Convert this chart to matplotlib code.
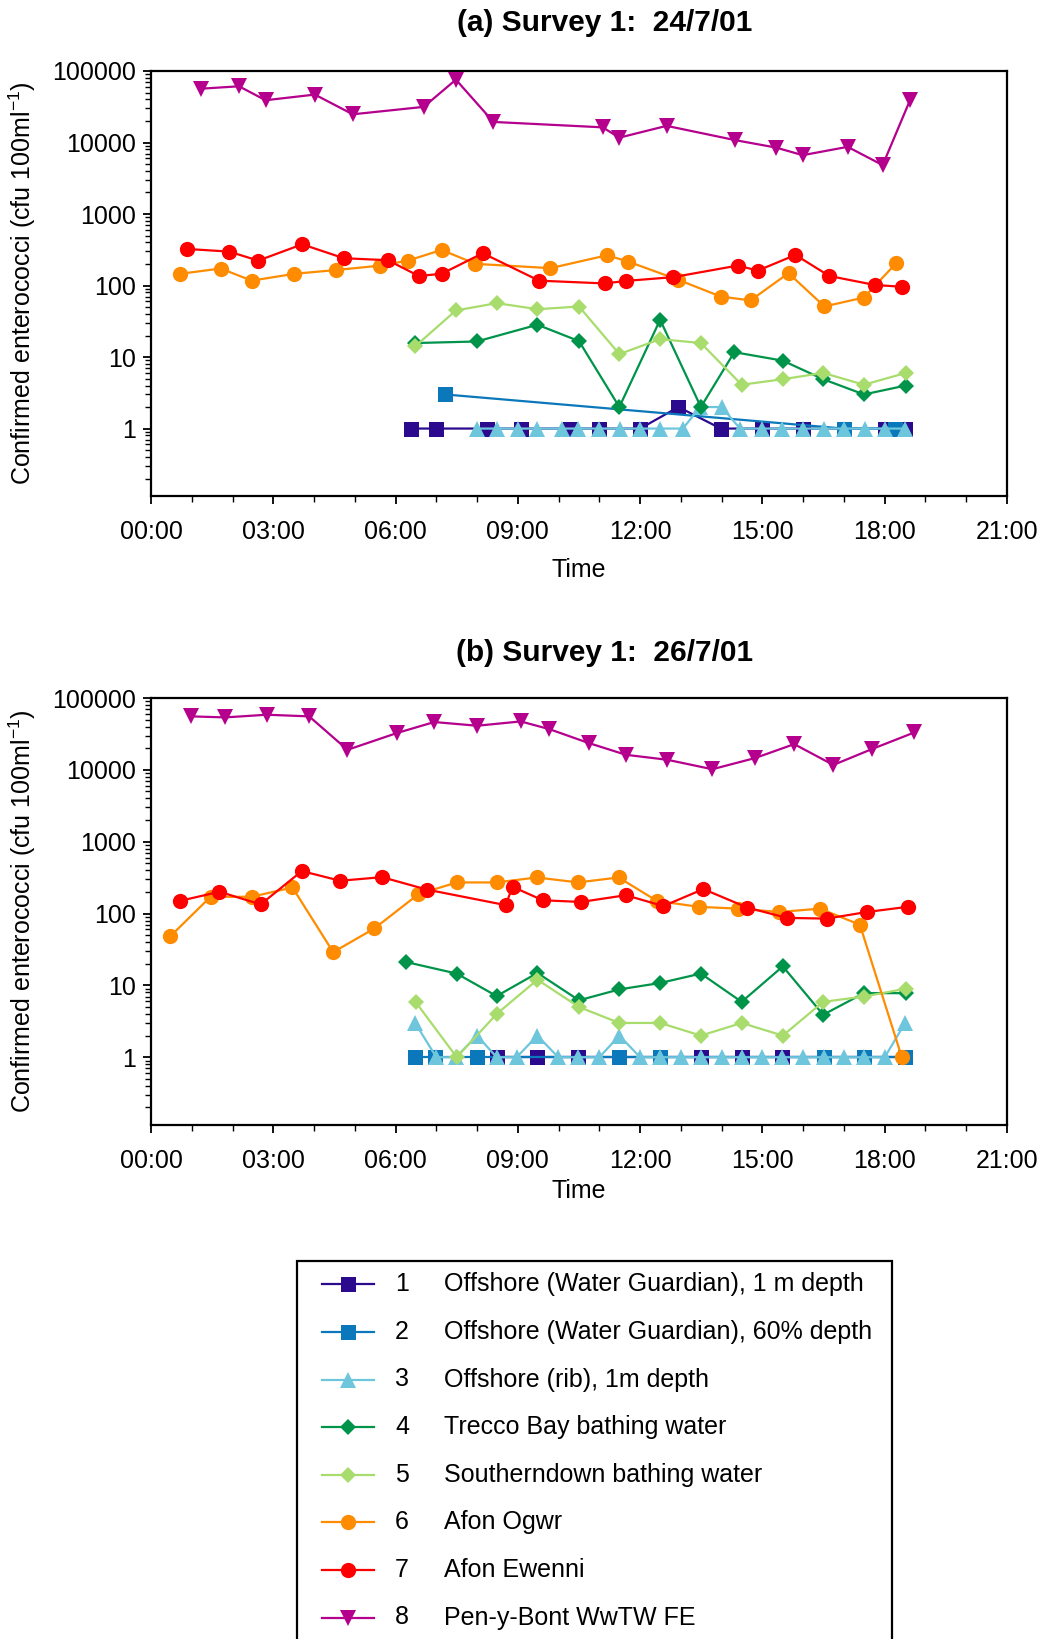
import matplotlib
matplotlib.use("Agg")
import matplotlib.pyplot as plt
import matplotlib.ticker as mticker
from matplotlib.lines import Line2D
from matplotlib.patches import Rectangle

plt.rcParams['font.family'] = ['Liberation Sans', 'DejaVu Sans']
plt.rcParams['mathtext.default'] = 'regular'

# ---------------- data ----------------
site_numbers = ['1', '2', '3', '4', '5', '6', '7', '8']
site_labels = ['Offshore (Water Guardian), 1 m depth',
               'Offshore (Water Guardian), 60% depth',
               'Offshore (rib), 1m depth',
               'Trecco Bay bathing water',
               'Southerndown bathing water',
               'Afon Ogwr',
               'Afon Ewenni',
               'Pen-y-Bont WwTW FE']
site_colors = ['#2B0A8E', '#0A78BA', '#6EC6DC', '#00944A',
               '#A8DC6C', '#FF8C00', '#FF0000', '#B4008C']
site_markers = ['s', 's', '^', 'D', 'D', 'o', 'o', 'v']
site_msize = [10.8, 10.8, 11.0, 7.8, 7.8, 11.0, 11.0, 11.0]

x_ticks = [0, 3, 6, 9, 12, 15, 18, 21]
x_ticklabels = ['00:00', '03:00', '06:00', '09:00', '12:00', '15:00', '18:00', '21:00']
y_ticks = [1, 10, 100, 1000, 10000, 100000]
y_ticklabels = ['1', '10', '100', '1000', '10000', '100000']

panel_titles = ['(a) Survey 1:  24/7/01', '(b) Survey 1:  26/7/01']

# ---- Survey (a) 24/7/01 : time (decimal hours), cfu/100ml ----
a_t1 = [6.39, 6.98, 8.24, 9.08, 10.28, 11.0, 12.0, 12.94, 13.98, 14.98, 16.0, 17.0, 18.0, 18.5]
a_v1 = [1, 1, 1, 1, 1, 1, 1, 2, 1, 1, 1, 1, 1, 1]
a_t2 = [7.21, 16.99, 18.25]
a_v2 = [3, 1, 1]
a_t3 = [8.0, 8.48, 9.0, 9.47, 10.08, 10.48, 10.98, 11.5, 12.0, 12.49, 13.05, 13.47,
        14.0, 14.45, 14.98, 15.47, 16.0, 16.5, 17.0, 17.52, 18.0, 18.5]
a_v3 = [1, 1, 1, 1, 1, 1, 1, 1, 1, 1, 1, 2, 2, 1, 1, 1, 1, 1, 1, 1, 1, 1]
a_t4 = [6.48, 7.99, 9.48, 10.5, 11.49, 12.49, 13.49, 14.31, 15.5, 16.49, 17.49, 18.52]
a_v4 = [15.7, 16.5, 28.3, 16.7, 2.0, 33.2, 2.0, 11.7, 8.9, 4.9, 3.0, 4.0]
a_t5 = [6.48, 7.48, 8.48, 9.48, 10.5, 11.49, 12.49, 13.49, 14.49, 15.5, 16.49, 17.49, 18.52]
a_v5 = [14.1, 44.8, 56.7, 46.7, 50.9, 11.0, 17.8, 15.7, 4.1, 4.9, 6.0, 4.1, 6.0]
a_t6 = [0.72, 1.71, 2.47, 3.52, 4.55, 5.63, 6.30, 7.13, 7.96, 9.80, 11.19, 11.71,
        12.94, 13.98, 14.71, 15.64, 16.52, 17.49, 18.28]
a_v6 = [146, 173, 117, 146, 165, 190, 223, 315, 201, 175, 265, 216,
        120, 70, 62, 149, 51, 68, 205]
a_t7 = [0.88, 1.92, 2.63, 3.71, 4.73, 5.81, 6.57, 7.13, 8.14, 9.52, 11.13, 11.65,
        12.81, 14.39, 14.89, 15.81, 16.64, 17.75, 18.43]
a_v7 = [325, 298, 223, 377, 241, 226, 136, 146, 283, 117, 107, 116,
        131, 190, 162, 268, 136, 102, 96]
a_t8 = [1.23, 2.16, 2.81, 4.02, 4.95, 6.69, 7.48, 8.40, 11.08, 11.49, 12.65,
        14.33, 15.33, 15.99, 17.09, 17.95, 18.62]
a_v8 = [56600, 61100, 39000, 46800, 24800, 31500, 75700, 19400, 16300, 11700, 17100,
        10800, 8500, 6650, 8700, 4830, 39000]

# ---- Survey (b) 26/7/01 ----
b_t1 = [8.48, 9.46, 10.48, 11.49, 12.49, 13.49, 14.49, 15.49, 16.5, 17.5, 18.5]
b_v1 = [1, 1, 1, 1, 1, 1, 1, 1, 1, 1, 1]
b_t2 = [6.48, 6.97, 7.99, 11.49, 12.49, 16.5, 17.5, 18.5]
b_v2 = [1, 1, 1, 1, 1, 1, 1, 1]
b_t3 = [6.48, 7.0, 7.48, 8.0, 8.48, 8.97, 9.48, 9.99, 10.48, 11.0, 11.49, 12.0, 12.49,
        13.0, 13.49, 14.0, 14.49, 15.0, 15.49, 16.0, 16.5, 17.0, 17.5, 18.0, 18.5]
b_v3 = [3, 1, 1, 2, 1, 1, 2, 1, 1, 1, 2, 1, 1, 1, 1, 1, 1, 1, 1, 1, 1, 1, 1, 1, 3]
b_t4 = [6.25, 7.5, 8.48, 9.48, 10.5, 11.49, 12.49, 13.49, 14.49, 15.5, 16.49, 17.49, 18.52]
b_v4 = [21.2, 14.6, 7.1, 14.9, 6.2, 8.8, 10.8, 14.6, 5.9, 18.4, 3.9, 7.8, 7.8]
b_t5 = [6.49, 7.5, 8.48, 9.48, 10.5, 11.49, 12.49, 13.49, 14.49, 15.5, 16.49, 17.49, 18.52]
b_v5 = [5.9, 1.0, 4.0, 12.0, 5.0, 3.0, 3.0, 2.0, 3.0, 2.0, 5.9, 7.0, 9.0]
b_t6 = [0.47, 1.46, 2.47, 3.47, 4.47, 5.48, 6.56, 7.5, 8.48, 9.46, 10.48, 11.47,
        12.41, 13.44, 14.41, 15.41, 16.41, 17.39, 18.42]
b_v6 = [48, 171, 171, 231, 29, 62, 186, 271, 271, 318, 271, 318,
        150, 124, 117, 105, 117, 70, 1]
b_t7 = [0.71, 1.68, 2.69, 3.70, 4.64, 5.67, 6.76, 8.70, 8.87, 9.61, 10.55, 11.65,
        12.57, 13.55, 14.63, 15.60, 16.58, 17.56, 18.56]
b_v7 = [150, 201, 134, 390, 286, 321, 216, 131, 236, 153, 145, 180,
        127, 219, 121, 87, 85, 105, 124]
b_t8 = [0.98, 1.82, 2.84, 3.88, 4.82, 6.03, 6.95, 8.0, 9.07, 9.77, 10.74, 11.65,
        12.67, 13.77, 14.82, 15.78, 16.74, 17.70, 18.73]
b_v8 = [55500, 53700, 58500, 55500, 19000, 32500, 46300, 41100, 47200, 36900, 23600,
        16200, 13800, 10200, 14600, 22800, 11700, 19600, 33200]

survey_a = [(a_t1, a_v1), (a_t2, a_v2), (a_t3, a_v3), (a_t4, a_v4),
            (a_t5, a_v5), (a_t6, a_v6), (a_t7, a_v7), (a_t8, a_v8)]
survey_b = [(b_t1, b_v1), (b_t2, b_v2), (b_t3, b_v3), (b_t4, b_v4),
            (b_t5, b_v5), (b_t6, b_v6), (b_t7, b_v7), (b_t8, b_v8)]

# ---------------- figure ----------------
W, H = 1045, 1639
fig = plt.figure(figsize=(W / 100, H / 100), dpi=100)

FS = 18
LW = 1.6
axes_px = [(71, 496), (698, 1125)]
title_y = [23, 653]
xlabel_y = [570, 1191]

for k, (survey, (top, bot)) in enumerate(zip([survey_a, survey_b], axes_px)):
    ax = fig.add_axes([151 / W, 1 - bot / H, 856 / W, (bot - top) / H])
    for i, (t, v) in enumerate(survey):
        ax.plot(t, v, color=site_colors[i], marker=site_markers[i],
                markersize=site_msize[i], markeredgewidth=0, lw=LW,
                zorder=2 + i, clip_on=False)
    ax.set_yscale('log')
    ax.set_xlim(0, 21)
    ax.set_ylim(0.114, 1e5)
    ax.yaxis.set_major_locator(mticker.FixedLocator(y_ticks))
    ax.yaxis.set_major_formatter(mticker.FixedFormatter(y_ticklabels))
    ax.yaxis.set_minor_locator(mticker.LogLocator(base=10, subs=range(2, 10), numticks=20))
    ax.yaxis.set_minor_formatter(mticker.NullFormatter())
    ax.xaxis.set_major_locator(mticker.FixedLocator(x_ticks))
    ax.xaxis.set_major_formatter(mticker.FixedFormatter(x_ticklabels))
    ax.xaxis.set_minor_locator(mticker.MultipleLocator(1))
    ax.tick_params(axis='both', which='major', direction='out', length=6, width=1.3,
                   labelsize=FS, top=False, right=False)
    ax.tick_params(axis='x', which='major', pad=11)
    ax.tick_params(axis='y', which='major', pad=5)
    ax.tick_params(axis='both', which='minor', direction='out', length=4, width=1.0,
                   top=False, right=False)
    for sp in ax.spines.values():
        sp.set_linewidth(1.6)
        sp.set_color('black')
    ax.set_ylabel('Confirmed enterococci (cfu 100ml$^{-1}$)', fontsize=FS)
    ax.yaxis.label.set_va('center')
    ax.yaxis.set_label_coords((22 - 151) / 856, 0.5)
    ax.set_xlabel('Time', fontsize=FS)
    ax.xaxis.label.set_va('center')
    ax.xaxis.set_label_coords(0.5, (bot - xlabel_y[k]) / (bot - top))
    fig.text(605 / W, 1 - title_y[k] / H, panel_titles[k], ha='center', va='center',
             fontsize=21.5, fontweight='bold')

# ---------------- legend ----------------
leg_left, leg_right, leg_top = 297, 892, 1261
fig.patches.append(Rectangle((leg_left / W, -0.05), (leg_right - leg_left) / W,
                             1 - leg_top / H + 0.05, transform=fig.transFigure,
                             fill=False, edgecolor='black', lw=1.6))
row0, drow = 1284.3, 47.6
for i in range(8):
    yc = 1 - (row0 + i * drow) / H
    fig.add_artist(Line2D([322 / W, 374 / W], [yc, yc], transform=fig.transFigure,
                          color=site_colors[i], lw=LW))
    fig.add_artist(Line2D([348 / W], [yc], transform=fig.transFigure,
                          color=site_colors[i], marker=site_markers[i],
                          markersize=site_msize[i], markeredgewidth=0, lw=0))
    fig.text(402 / W, yc, site_numbers[i], ha='center', va='center', fontsize=FS)
    fig.text(444 / W, yc, site_labels[i], ha='left', va='center', fontsize=FS)

fig.savefig('out.png', dpi=100)
